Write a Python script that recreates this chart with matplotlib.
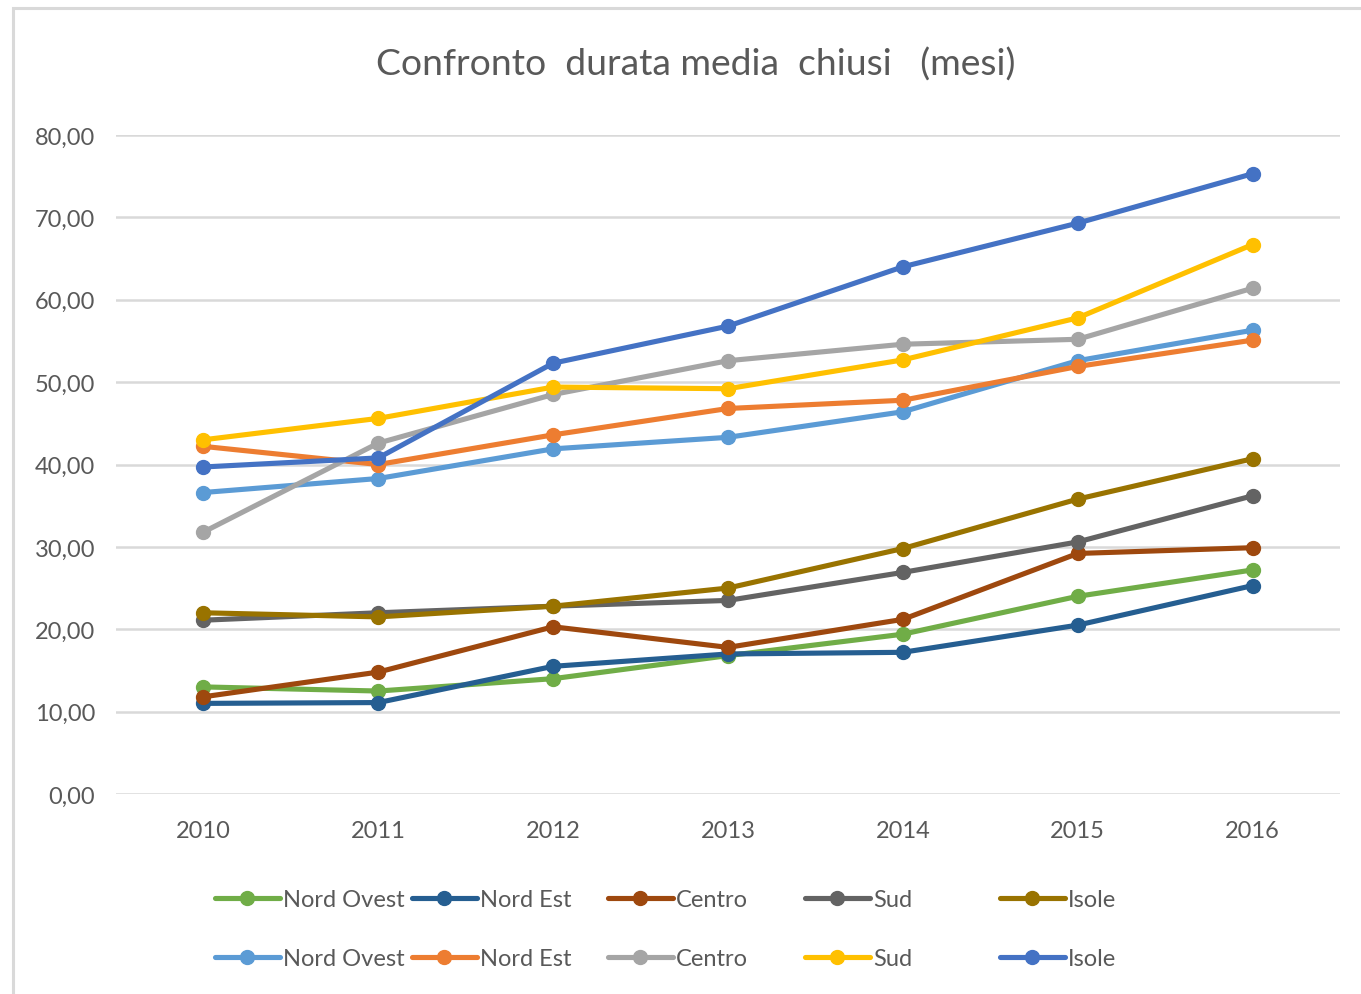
import matplotlib
matplotlib.use("Agg")
import matplotlib.pyplot as plt
from matplotlib.patches import Rectangle

# data
anni = ["2010", "2011", "2012", "2013", "2014", "2015", "2016"]
etichette = ["Nord Ovest", "Nord Est", "Centro", "Sud", "Isole"]

# first group (lower lines)
nord_ovest_a = [13.0, 12.5, 14.0, 16.8, 19.4, 24.0, 27.2]
nord_est_a = [11.0, 11.1, 15.5, 17.0, 17.2, 20.5, 25.3]
centro_a = [11.8, 14.8, 20.3, 17.8, 21.2, 29.2, 29.9]
sud_a = [21.1, 22.0, 22.8, 23.5, 26.9, 30.6, 36.2]
isole_a = [22.0, 21.5, 22.8, 25.0, 29.8, 35.8, 40.7]

# second group (upper lines)
nord_ovest_b = [36.6, 38.3, 41.9, 43.3, 46.4, 52.6, 56.3]
nord_est_b = [42.2, 40.0, 43.6, 46.8, 47.8, 51.9, 55.1]
centro_b = [31.8, 42.6, 48.5, 52.6, 54.6, 55.2, 61.4]
sud_b = [43.0, 45.6, 49.4, 49.2, 52.7, 57.8, 66.7]
isole_b = [39.7, 40.8, 52.3, 56.8, 64.0, 69.3, 75.3]

colori_a = ["#70AD47", "#255E91", "#9E480E", "#636363", "#997300"]
colori_b = ["#5B9BD5", "#ED7D31", "#A5A5A5", "#FFC000", "#4472C4"]

plt.rcParams["font.family"] = ["Lato", "DejaVu Sans"]
testo = "#595959"
griglia = "#D9D9D9"

W, H = 1361, 995
fig = plt.figure(figsize=(W / 100, H / 100), dpi=100)
fig.patch.set_facecolor("white")

# light border of the chart area (cut on right and bottom like the reference)
fig.patches.append(Rectangle((13 / W, -0.1), 2, 1.1 - 9 / H, transform=fig.transFigure,
                             fill=False, edgecolor=griglia, lw=2.2, zorder=0))

ax = fig.add_axes([116 / W, 200 / H, (1340 - 116) / W, (795 - 136) / H])
x = list(range(len(anni)))

serie_a = [nord_ovest_a, nord_est_a, centro_a, sud_a, isole_a]
serie_b = [nord_ovest_b, nord_est_b, centro_b, sud_b, isole_b]

linee_a, linee_b = [], []
for valori, col, lab in zip(serie_a, colori_a, etichette):
    l, = ax.plot(x, valori, color=col, lw=3.7, marker="o", markersize=10,
                 label=lab, solid_capstyle="round")
    linee_a.append(l)
for valori, col, lab in zip(serie_b, colori_b, etichette):
    l, = ax.plot(x, valori, color=col, lw=3.7, marker="o", markersize=10,
                 label=lab, solid_capstyle="round")
    linee_b.append(l)

ax.set_xlim(-0.5, len(anni) - 0.5)
ax.set_ylim(0, 80)
ax.set_yticks(range(0, 81, 10))
ax.set_yticklabels([f"{v:.2f}".replace(".", ",") for v in range(0, 81, 10)])
ax.set_xticks(x)
ax.set_xticklabels(anni)
ax.tick_params(length=0, labelsize=17, colors=testo)
ax.tick_params(axis="y", pad=15)
ax.tick_params(axis="x", pad=19)
ax.grid(axis="y", color=griglia, lw=1.8)
ax.set_axisbelow(True)
for s in ax.spines.values():
    s.set_visible(False)

fig.text(0.511, 1 - 65 / H, "Confronto  durata media  chiusi   (mesi)",
         ha="center", va="center", fontsize=26.8, color=testo)

# legend: one small legend per column so columns sit at fixed spacing
col_x = [215, 412, 608, 805, 1000]
for i, cx in enumerate(col_x):
    leg = fig.legend(handles=[linee_a[i], linee_b[i]], loc="center left",
                     bbox_to_anchor=(cx / W, 1 - 930 / H), frameon=False,
                     fontsize=17, handlelength=2.75, handletextpad=0.12,
                     labelspacing=1.6, borderpad=0, borderaxespad=0)
    for t in leg.get_texts():
        t.set_color(testo)

fig.savefig("out.png", dpi=100)
